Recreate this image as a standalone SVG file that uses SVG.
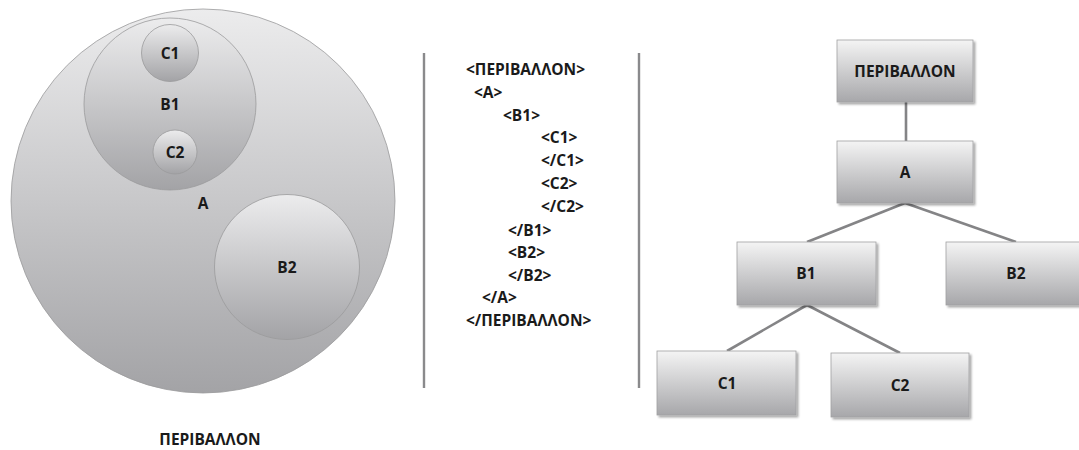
<svg xmlns="http://www.w3.org/2000/svg" width="1079" height="450" viewBox="0 0 1079 450">
  <defs>
    <linearGradient id="gCircle" x1="0" y1="0" x2="0" y2="1">
      <stop offset="0" stop-color="#ececed"/>
      <stop offset="1" stop-color="#a3a3a6"/>
    </linearGradient>
    <linearGradient id="gBox" x1="0" y1="0" x2="0" y2="1">
      <stop offset="0" stop-color="#f4f4f4"/>
      <stop offset="1" stop-color="#a7a7aa"/>
    </linearGradient>
    <filter id="shadow" x="-10%" y="-10%" width="130%" height="130%">
      <feDropShadow dx="2" dy="2" stdDeviation="1.2" flood-color="#000" flood-opacity="0.35"/>
    </filter>
    <style>
      .lbl { font-family: "Open Sans", "Liberation Sans", sans-serif; font-weight: 700; font-size: 15.5px; fill: #1a1a1a; }
      .mid { text-anchor: middle; }
      .circ { fill: url(#gCircle); stroke: #9a9a9c; stroke-width: 0.8; }
      .box { fill: url(#gBox); stroke: #a0a0a2; stroke-width: 0.8; filter: url(#shadow); }
      .conn { stroke: #848486; stroke-width: 2.6; fill: none; }
      .divider { stroke: #8a8a8c; stroke-width: 2.4; }
    </style>
  </defs>
  <rect width="1079" height="450" fill="#ffffff"/>

  <!-- Set view: nested circles -->
  <g id="set-A">
    <circle class="circ" cx="203" cy="201" r="192"/>
    <text class="lbl mid" x="203" y="209">A</text>
  </g>
  <g id="set-B1">
    <circle class="circ" cx="170" cy="104" r="86"/>
    <text class="lbl mid" x="170" y="110">B1</text>
  </g>
  <g id="set-C1">
    <circle class="circ" cx="170" cy="53" r="28.5"/>
    <text class="lbl mid" x="170" y="59">C1</text>
  </g>
  <g id="set-C2">
    <circle class="circ" cx="175" cy="152" r="22"/>
    <text class="lbl mid" x="175" y="158">C2</text>
  </g>
  <g id="set-B2">
    <circle class="circ" cx="287" cy="267" r="72.5"/>
    <text class="lbl mid" x="287" y="273">B2</text>
  </g>
  <g id="set-caption">
    <text class="lbl mid" x="210" y="445">ΠΕΡΙΒΑΛΛΟΝ</text>
  </g>

  <!-- Dividers -->
  <line class="divider" x1="424" y1="53" x2="424" y2="388"/>
  <line class="divider" x1="639" y1="53" x2="639" y2="388"/>

  <!-- Markup view -->
  <g id="markup" class="lbl">
    <text x="466" y="75">&lt;ΠΕΡΙΒΑΛΛΟΝ&gt;</text>
    <text x="474" y="98">&lt;A&gt;</text>
    <text x="503" y="121">&lt;B1&gt;</text>
    <text x="541" y="143">&lt;C1&gt;</text>
    <text x="541" y="166">&lt;/C1&gt;</text>
    <text x="541" y="189">&lt;C2&gt;</text>
    <text x="541" y="212">&lt;/C2&gt;</text>
    <text x="508" y="236">&lt;/B1&gt;</text>
    <text x="508" y="258">&lt;B2&gt;</text>
    <text x="508" y="281">&lt;/B2&gt;</text>
    <text x="482" y="303">&lt;/A&gt;</text>
    <text x="466" y="326">&lt;/ΠΕΡΙΒΑΛΛΟΝ&gt;</text>
  </g>

  <!-- Tree view connectors -->
  <g id="connectors">
    <line class="conn" x1="906" y1="102" x2="906" y2="141"/>
    <line class="conn" x1="905" y1="203" x2="807" y2="242"/>
    <line class="conn" x1="905" y1="203" x2="1016" y2="242"/>
    <line class="conn" x1="807" y1="305" x2="727" y2="351"/>
    <line class="conn" x1="807" y1="305" x2="900" y2="353"/>
  </g>

  <!-- Tree view nodes -->
  <g id="node-root">
    <rect class="box" x="837" y="40" width="136" height="62"/>
    <text class="lbl mid" x="905" y="77">ΠΕΡΙΒΑΛΛΟΝ</text>
  </g>
  <g id="node-A">
    <rect class="box" x="837" y="141" width="136" height="62"/>
    <text class="lbl mid" x="905" y="178">A</text>
  </g>
  <g id="node-B1">
    <rect class="box" x="737" y="242" width="139" height="63"/>
    <text class="lbl mid" x="806" y="279">B1</text>
  </g>
  <g id="node-B2">
    <rect class="box" x="946" y="242" width="139" height="63"/>
    <text class="lbl mid" x="1016" y="279">B2</text>
  </g>
  <g id="node-C1">
    <rect class="box" x="657" y="351" width="139" height="64"/>
    <text class="lbl mid" x="727" y="389">C1</text>
  </g>
  <g id="node-C2">
    <rect class="box" x="831" y="353" width="138" height="64"/>
    <text class="lbl mid" x="900" y="391">C2</text>
  </g>
</svg>
